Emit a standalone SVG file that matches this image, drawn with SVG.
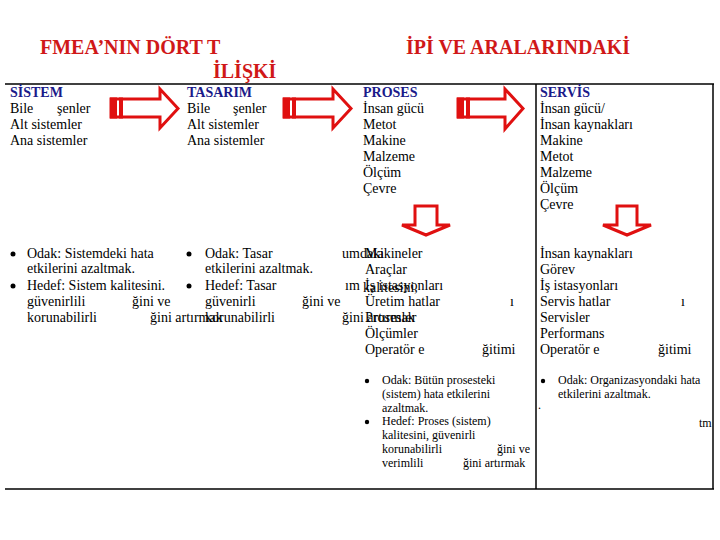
<svg xmlns="http://www.w3.org/2000/svg" width="720" height="540" viewBox="0 0 720 540">
<style>
.t{font-family:"Liberation Serif","Times New Roman",serif;font-size:14px;fill:#000}
.s{font-family:"Liberation Serif","Times New Roman",serif;font-size:12px;fill:#000}
.h{font-family:"Liberation Serif","Times New Roman",serif;font-size:14px;font-weight:bold;fill:#1a1a8a}
.title{font-family:"Liberation Serif","Times New Roman",serif;font-size:20px;font-weight:bold;fill:#d01818}
.line{stroke:#000;stroke-width:1.5;fill:none}
.arr{fill:#fff;stroke:#e01010;stroke-width:3;stroke-linejoin:miter}
.fill{fill:#e01010}
</style>
<rect width="720" height="540" fill="#fff"/>
<g id="title">
<text class="title" x="40" y="54">FMEA’NIN DÖRT T</text>
<text class="title" x="213" y="78">İLİŞKİ</text>
<text class="title" x="406" y="54">İPİ VE ARALARINDAKİ</text>
</g>
<g id="table">
<line class="line" x1="5" y1="84" x2="714" y2="84"/>
<line class="line" x1="5" y1="489" x2="714" y2="489"/>
<line class="line" x1="536" y1="84" x2="536" y2="489"/>
<line class="line" x1="713" y1="84" x2="713" y2="489"/>
</g>
<g id="sistem">
<text class="h" x="10" y="97">SİSTEM</text>
<text class="t" x="10" y="113">Bile<tspan x="57">şenler</tspan></text>
<text class="t" x="10" y="129">Alt sistemler</text>
<text class="t" x="10" y="145">Ana sistemler</text>
<circle cx="13" cy="254" r="2.5"/>
<text class="t" x="27" y="258">Odak: Sistemdeki hata</text>
<text class="t" x="27" y="273">etkilerini azaltmak.</text>
<circle cx="13" cy="286" r="2.5"/>
<text class="t" x="27" y="290">Hedef: Sistem kalitesini.</text>
<text class="t" x="27" y="306">güvenirlili</text>
<text class="t" x="132" y="306">ğini ve</text>
<text class="t" x="27" y="322">korunabilirli</text>
<text class="t" x="150" y="322">ğini artırmak</text>
</g>
<g id="tasarim">
<text class="h" x="187" y="97">TASARIM</text>
<text class="t" x="187" y="113">Bile<tspan x="233">şenler</tspan></text>
<text class="t" x="187" y="129">Alt sistemler</text>
<text class="t" x="187" y="145">Ana sistemler</text>
<circle cx="189" cy="254" r="2.5"/>
<text class="t" x="205" y="258">Odak: Tasar</text>
<text class="t" x="342" y="258">umdaki</text>
<text class="t" x="205" y="273">etkilerini azaltmak.</text>
<circle cx="189" cy="286" r="2.5"/>
<text class="t" x="205" y="290">Hedef: Tasar</text>
<text class="t" x="345" y="290">ım</text>
<text class="t" x="363" y="292">kalitesini,</text>
<text class="t" x="205" y="306">güvenirli</text>
<text class="t" x="302" y="306">ğini ve</text>
<text class="t" x="205" y="322">korunabilirli</text>
<text class="t" x="342" y="322">ğini artırmak</text>
</g>
<g id="proses">
<text class="h" x="363" y="97">PROSES</text>
<text class="t" x="363" y="113">İnsan gücü</text>
<text class="t" x="363" y="129">Metot</text>
<text class="t" x="363" y="145">Makine</text>
<text class="t" x="363" y="161">Malzeme</text>
<text class="t" x="363" y="177">Ölçüm</text>
<text class="t" x="363" y="193">Çevre</text>
<text class="t" x="365" y="258">Makineler</text>
<text class="t" x="365" y="274">Araçlar</text>
<text class="t" x="365" y="290">İş istasyonları</text>
<text class="t" x="365" y="306">Üretim hatlar</text>
<text class="t" x="510" y="306">ı</text>
<text class="t" x="365" y="322">Prosesler</text>
<text class="t" x="365" y="338">Ölçümler</text>
<text class="t" x="365" y="354">Operatör e</text>
<text class="t" x="482" y="354">ğitimi</text>
<circle cx="367" cy="381" r="2.2"/>
<text class="s" x="382" y="384">Odak: Bütün prosesteki</text>
<text class="s" x="382" y="398">(sistem) hata etkilerini</text>
<text class="s" x="382" y="412">azaltmak.</text>
<circle cx="367" cy="422" r="2.2"/>
<text class="s" x="382" y="425">Hedef: Proses (sistem)</text>
<text class="s" x="382" y="439">kalitesini, güvenirli</text>
<text class="s" x="382" y="453">korunabilirli</text>
<text class="s" x="497" y="453">ğini ve</text>
<text class="s" x="382" y="467">verimlili</text>
<text class="s" x="463" y="467">ğini artırmak</text>
</g>
<g id="servis">
<text class="h" x="540" y="97">SERVİS</text>
<text class="t" x="540" y="113">İnsan gücü/</text>
<text class="t" x="540" y="129">İnsan kaynakları</text>
<text class="t" x="540" y="145">Makine</text>
<text class="t" x="540" y="161">Metot</text>
<text class="t" x="540" y="177">Malzeme</text>
<text class="t" x="540" y="193">Ölçüm</text>
<text class="t" x="540" y="209">Çevre</text>
<text class="t" x="540" y="258">İnsan kaynakları</text>
<text class="t" x="540" y="274">Görev</text>
<text class="t" x="540" y="290">İş istasyonları</text>
<text class="t" x="540" y="306">Servis hatlar</text>
<text class="t" x="681" y="306">ı</text>
<text class="t" x="540" y="322">Servisler</text>
<text class="t" x="540" y="338">Performans</text>
<text class="t" x="540" y="354">Operatör e</text>
<text class="t" x="658" y="354">ğitimi</text>
<circle cx="543" cy="381" r="2.2"/>
<text class="s" x="558" y="384">Odak: Organizasyondaki hata</text>
<text class="s" x="558" y="398">etkilerini azaltmak.</text>
<text class="s" x="538" y="409">.</text>
<text class="s" x="699" y="427">tm</text>
</g>
<g id="connectors">
<g id="arrow1">
<polygon class="arr" points="111,99 160,99 160,89 178,108.5 160,128 160,117 111,117"/>
<rect class="fill" x="110" y="97.5" width="7" height="21"/>
<rect class="fill" x="119" y="97.5" width="4" height="21"/>
</g>
<g id="arrow2">
<polygon class="arr" points="284,99 333,99 333,89 351,108.5 333,128 333,117 284,117"/>
<rect class="fill" x="283" y="97.5" width="7" height="21"/>
<rect class="fill" x="292" y="97.5" width="4" height="21"/>
</g>
<g id="arrow3">
<polygon class="arr" points="458,99 505,99 505,89 523,108.5 505,129 505,117 458,117"/>
<rect class="fill" x="457" y="97.5" width="7" height="21"/>
<rect class="fill" x="466" y="97.5" width="4" height="21"/>
</g>
<g id="arrow4">
<polygon class="arr" points="415,206 437,206 437,225 450,225 426,235 402,225 415,225"/>
</g>
<g id="arrow5">
<polygon class="arr" points="617,206 637,206 637,225 651,225 627,235 603,225 617,225"/>
</g>
</g>
</svg>
